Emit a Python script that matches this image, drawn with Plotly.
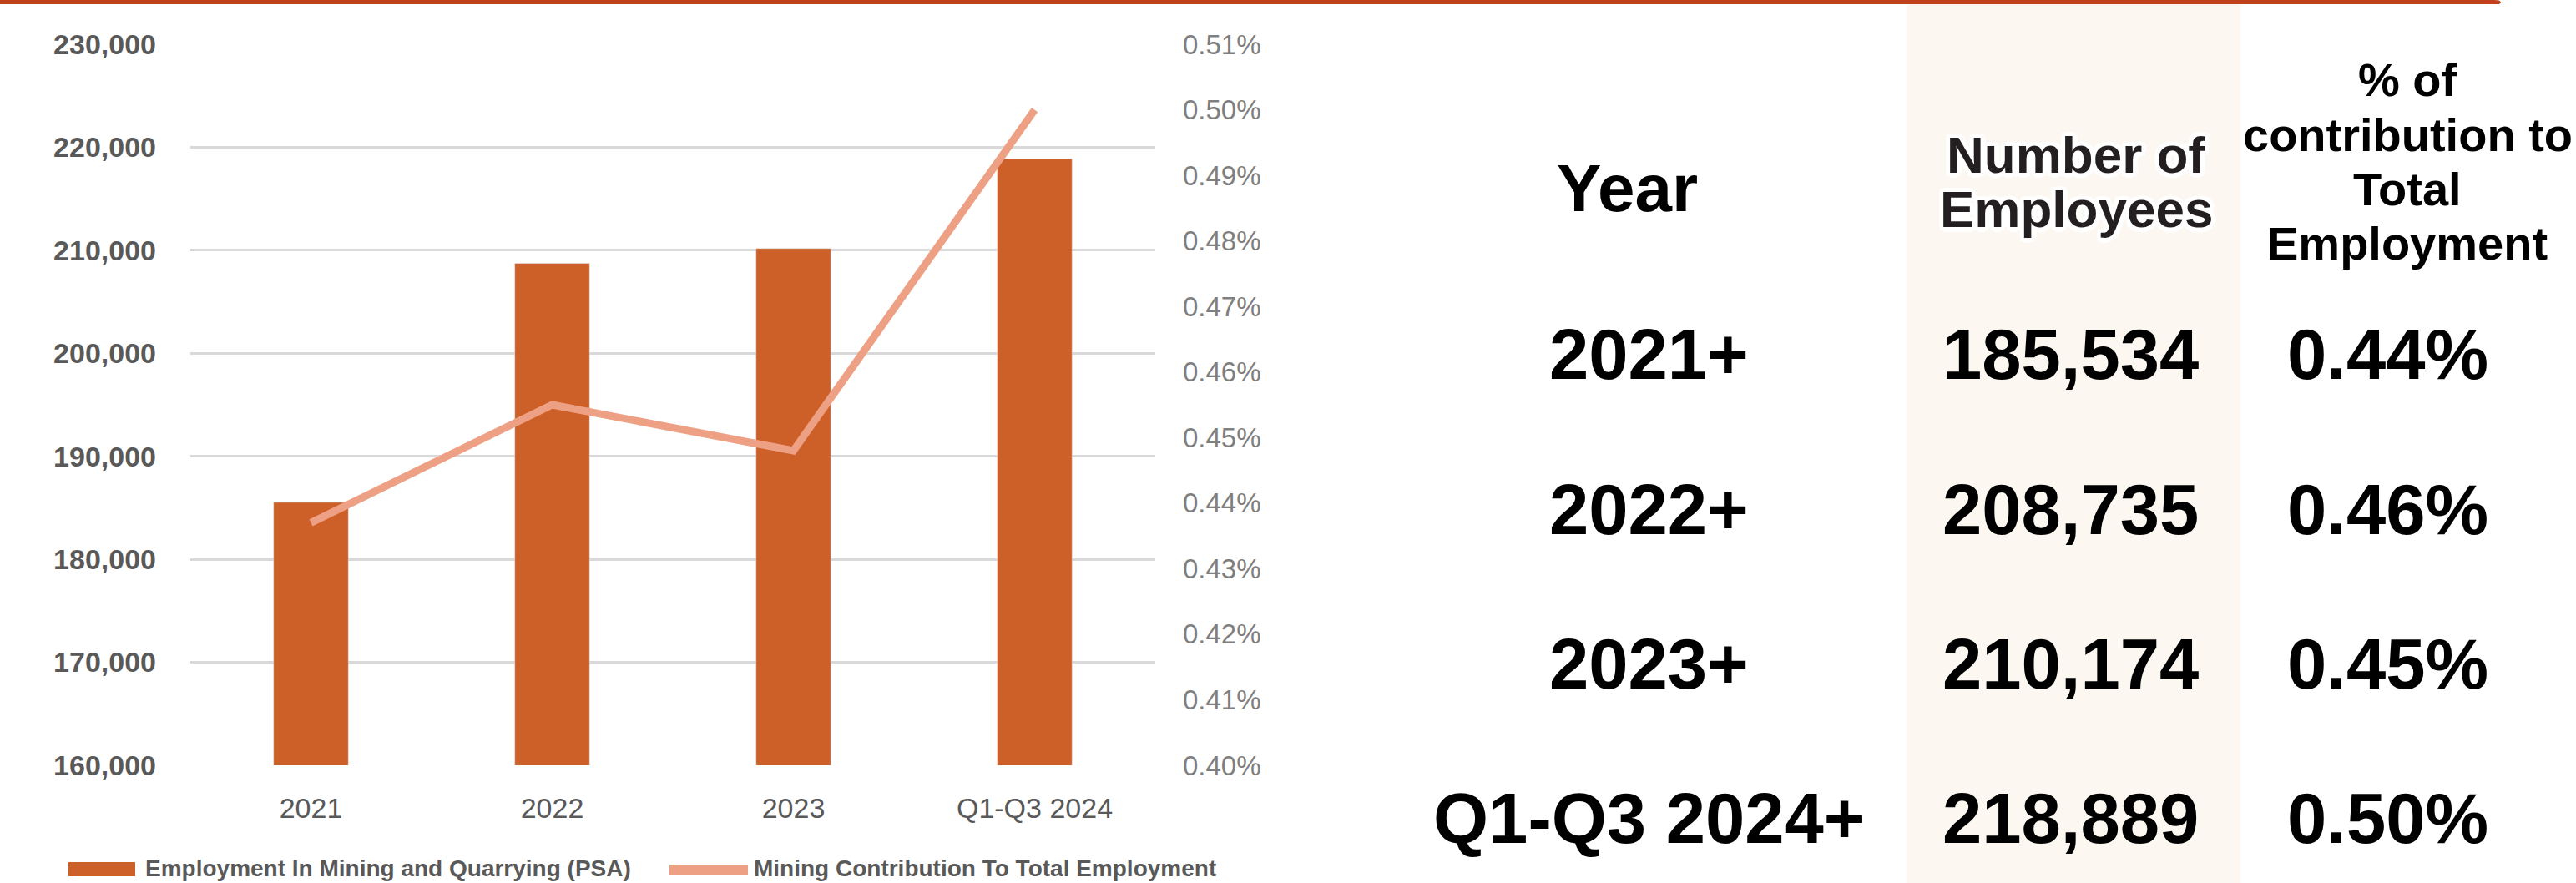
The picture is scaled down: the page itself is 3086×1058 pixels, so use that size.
import plotly.graph_objects as go

W, H = 3086, 1058

categories = ["2021", "2022", "2023", "Q1-Q3 2024"]
employment = [185534, 208735, 210174, 218889]
contribution = [0.437, 0.455, 0.448, 0.500]

table_years = ["2021+", "2022+", "2023+", "Q1-Q3 2024+"]
table_share = [0.44, 0.46, 0.45, 0.50]

BAR = "#CD5F28"
LINE = "#EEA085"
GRID = "#D9D9D9"
FONT = "Liberation Sans, Arial, sans-serif"


def px(x):
    return x / W


def py(y):
    return 1 - y / H


fig = go.Figure()
fig.add_trace(go.Bar(x=categories, y=employment, marker_color=BAR, name="Employment In Mining and Quarrying (PSA)"))
fig.add_trace(go.Scatter(x=categories, y=contribution, mode="lines", yaxis="y2",
                         line=dict(color=LINE, width=9), name="Mining Contribution To Total Employment"))

fig.update_layout(
    width=W, height=H,
    margin=dict(l=0, r=0, t=0, b=0, pad=0, autoexpand=False),
    paper_bgcolor="white", plot_bgcolor="white",
    showlegend=False,
    bargap=0.69,
    xaxis=dict(domain=[px(228), px(1384)], showgrid=False, showline=False, automargin=False,
               tickfont=dict(family=FONT, size=34, color="#595959"), ticklabelstandoff=28),
    yaxis=dict(range=[160000, 230000], dtick=10000, tickformat=",d", showgrid=True, gridcolor=GRID,
               gridwidth=3, zeroline=False, domain=[1 - 917 / H, 1 - 53 / H], automargin=False,
               tickfont=dict(family=FONT, size=34, color="#595959", weight="bold"), ticklabelstandoff=40),
    yaxis2=dict(range=[0.40, 0.51], dtick=0.01, tickformat=".2f", ticksuffix="%", overlaying="y",
                side="right", showgrid=False, zeroline=False, anchor="x", automargin=False,
                tickfont=dict(family=FONT, size=33, color="#7F7F7F"), ticklabelstandoff=32),
)

shapes = [
    # top strip
    dict(type="path", xref="paper", yref="paper", line_width=0, fillcolor="#C0401C",
         path=f"M0,1 L{px(2988)},1 Q{px(2999)},1 {px(2994)},{py(5)} L0,{py(5)} Z"),
    # highlighted column
    dict(type="rect", xref="paper", yref="paper", x0=px(2284), x1=px(2684), y0=0, y1=py(5),
         fillcolor="#FCF8F1", line_width=0, layer="below"),
    # legend swatches
    dict(type="rect", xref="paper", yref="paper", x0=px(82), x1=px(162), y0=py(1050), y1=py(1033),
         fillcolor=BAR, line_width=0),
    dict(type="rect", xref="paper", yref="paper", x0=px(802), x1=px(896), y0=py(1048), y1=py(1036),
         fillcolor=LINE, line_width=0),
]

ann = []


def text(x, y, s, size, color="#000000", bold=True, anchor="center", shadow=None):
    f = dict(family=FONT, size=size, color=color, weight="bold" if bold else "normal")
    if shadow:
        f["shadow"] = shadow
    ann.append(dict(xref="paper", yref="paper", x=px(x), y=py(y), text=s, showarrow=False,
                    xanchor=anchor, yanchor="middle", font=f))


# legend text
text(172, 1040, "Employment In Mining and Quarrying (PSA)", 28, "#595959", anchor="left")
text(901, 1040, "Mining Contribution To Total Employment", 28, "#595959", anchor="left")

# table headers
glow = ("4px 4px 0 #fff, -4px -4px 0 #fff, 4px -4px 0 #fff, -4px 4px 0 #fff, "
        "0 6px 0 #fff, 6px 0 0 #fff, 0 -5px 0 #fff, -5px 0 0 #fff")
text(1950, 225, "Year", 80)
text(2487, 185, "Number of", 62, "#231F20", shadow=glow)
text(2487, 251, "Employees", 62, "#231F20", shadow=glow)
for i, line in enumerate(["% of", "contribution to", "Total", "Employment"]):
    text(2884, 96 + i * 65, line, 56)

# table rows
for i in range(len(table_years)):
    y = 425 + i * 185
    text(1975, y, table_years[i], 85)
    text(2480, y, f"{employment[i]:,}", 85)
    text(2860, y, f"{table_share[i]:.2f}%", 85)

fig.update_layout(shapes=shapes, annotations=ann)
fig.write_html("out.html", config={"displayModeBar": False},
               post_script="document.body.style.margin='0';document.body.style.overflow='hidden';")
